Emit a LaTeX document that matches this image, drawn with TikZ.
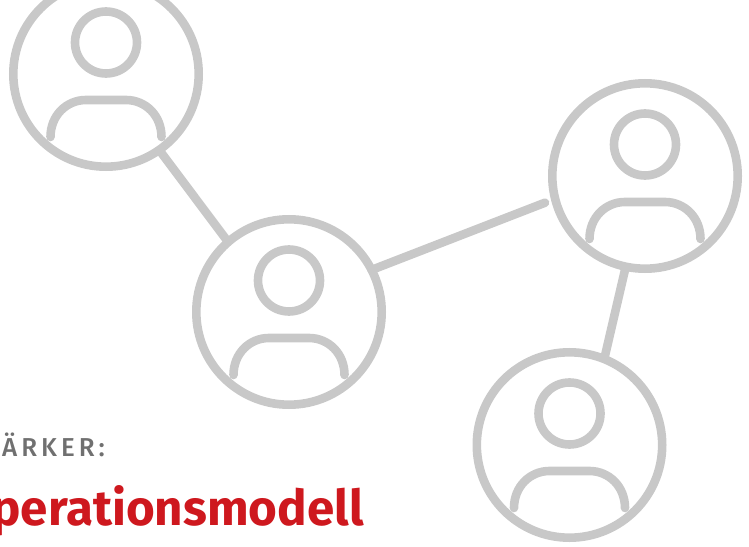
\documentclass[tikz,border=0pt]{standalone}
\usepackage{fontspec}
\usetikzlibrary{calc}
\setmainfont{Fira Sans}
\newfontfamily\capsfont[LetterSpace=15.5]{Fira Sans Medium}
\newfontfamily\redfont[Ligatures=NoCommon]{Fira Sans}
\definecolor{ring}{HTML}{C8C8C8}
\definecolor{redtext}{HTML}{CE181E}
\definecolor{greytext}{HTML}{707070}
\tikzset{
  ring/.style={circle,draw=ring,line width=8.6bp,minimum size=185.4bp,inner sep=0pt,outer sep=0pt},
  stroke/.style={draw=ring,line width=8.6bp,line cap=round},
  link/.style={draw=ring,line width=8.6bp},
  pics/person/.style={code={
    \draw[stroke] (0,-31.5) circle (31);
    \draw[stroke] (-55.5,63) .. controls (-55.5,41.5) and (-39.5,26) .. (-20,26) -- (20,26) .. controls (39.5,26) and (55.5,41.5) .. (55.5,63);
  }}
}
\begin{document}
\begin{tikzpicture}[x=1bp,y=-1bp]
\useasboundingbox (0,0) rectangle (749,547);
\node[ring] (p1) at (106,74) {};
\node[ring] (p2) at (289,312) {};
\node[ring] (p3) at (645,176) {};
\node[ring] (p4) at (569.5,445) {};
\pic at (p1.center) {person};
\pic at (p2.center) {person};
\pic at (p3.center) {person};
\pic at (p4.center) {person};
\draw[link] (p1.-55.3) -- (p2.131.6);
\coordinate (e3) at ($(p3.center)+(-100,26.7)$);
\draw[link,line cap=round] (p2.27.6) -- (e3);
\draw[link] (p3.-102.6) -- (p4.68.4);
\node[anchor=base west,inner sep=0pt,text=greytext,font=\fontsize{26}{30}\capsfont] (t1) at (2,456) {ÄRKER:};
\node[anchor=base east,inner sep=0pt,text=redtext,font=\fontsize{49.5}{56}\redfont\bfseries] (t2) at (364,525) {perationsmodell};
\end{tikzpicture}
\end{document}
